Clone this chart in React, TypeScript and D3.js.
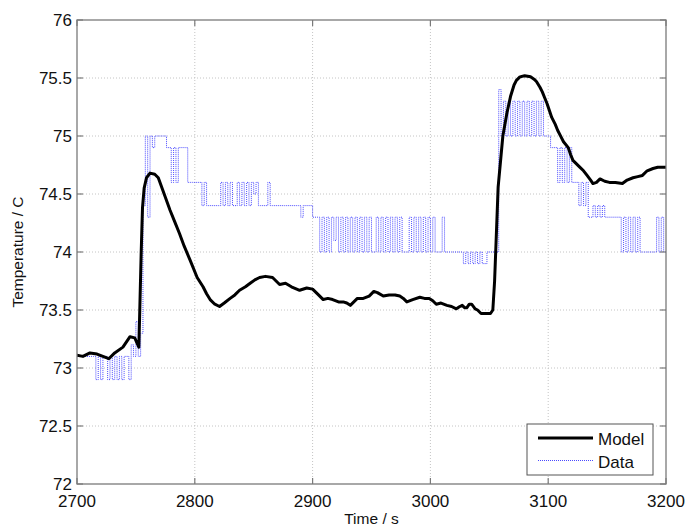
import React from "react";
import * as d3 from "d3";

// Simulated model response (time in s, temperature in °C)
const modelTime = [
  2700, 2705, 2711, 2717, 2722, 2727, 2732, 2739, 2745, 2749, 2752.5, 2753.3, 2754.5, 2755.6, 2757, 2759,
  2762, 2766, 2769, 2774, 2779, 2783, 2787, 2791, 2796, 2802, 2807, 2810, 2813, 2817, 2821, 2825,
  2830, 2834, 2838, 2843, 2847, 2851, 2855, 2860, 2866, 2872, 2877, 2882, 2889, 2895, 2900, 2905,
  2909, 2913, 2917, 2922, 2926, 2929, 2932, 2935, 2938, 2943, 2948, 2952, 2955, 2960, 2965, 2970,
  2974, 2977, 2980, 2985, 2991, 2995, 2999, 3002, 3005, 3009, 3014, 3018, 3022, 3025, 3027, 3029,
  3031, 3033, 3035, 3038, 3040, 3043, 3047, 3051, 3053, 3054.5, 3057.5, 3061.5, 3065, 3068, 3071, 3073,
  3076, 3080, 3085, 3088, 3090, 3093, 3095, 3097, 3099, 3101, 3103, 3106, 3108, 3111, 3113, 3117,
  3119, 3121, 3124, 3127, 3130, 3133, 3136, 3138, 3141, 3144, 3148, 3152, 3157, 3163, 3167, 3172,
  3176, 3180, 3184, 3189, 3193, 3197, 3200,
];
const modelTemp = [
  73.11, 73.1, 73.13, 73.12, 73.1, 73.08, 73.13, 73.18, 73.27, 73.26, 73.18, 73.5, 74.0, 74.38, 74.55, 74.64,
  74.68, 74.67, 74.64, 74.5, 74.36, 74.26, 74.16, 74.05, 73.93, 73.78, 73.7, 73.64, 73.59, 73.55, 73.53, 73.56,
  73.6, 73.63, 73.67, 73.7, 73.73, 73.76, 73.78, 73.79, 73.78, 73.72, 73.73, 73.7, 73.67, 73.69, 73.68, 73.63,
  73.59, 73.6, 73.59, 73.57, 73.57, 73.56, 73.54, 73.57, 73.6, 73.6, 73.62, 73.66, 73.65, 73.62, 73.63, 73.63,
  73.62, 73.6, 73.57, 73.59, 73.61, 73.6, 73.6, 73.58, 73.55, 73.56, 73.54, 73.53, 73.51, 73.53, 73.54, 73.52,
  73.52, 73.55, 73.55, 73.51, 73.5, 73.47, 73.47, 73.47, 73.5, 73.75, 74.56, 75.0, 75.2, 75.34, 75.44, 75.48,
  75.51, 75.52, 75.51, 75.49, 75.47, 75.42, 75.38, 75.33, 75.28, 75.22, 75.16, 75.1, 75.05, 74.99, 74.95, 74.9,
  74.84, 74.79, 74.76, 74.73, 74.7, 74.66, 74.62, 74.59, 74.6, 74.63, 74.61, 74.6, 74.6, 74.59, 74.62, 74.64,
  74.65, 74.66, 74.7, 74.72, 74.73, 74.73, 74.73,
];

// Measured sensor data, sampled every 2 s from 2700 s (0.1 °C resolution)
const dataStart = 2700;
const dataStep = 2;
const dataTemp = [
  73.1, 73.1, 73.1, 73.1, 73.1, 73.1, 73.1, 73.1, 72.9, 73.1,
  72.9, 73.1, 73.1, 72.9, 73.1, 72.9, 73.1, 72.9, 73.1, 72.9,
  73.1, 73.1, 72.9, 73.2, 73.1, 73.4, 73.1, 73.3, 74.4, 75.0,
  74.3, 75.0, 74.9, 75.0, 75.0, 75.0, 75.0, 75.0, 74.9, 74.9,
  74.6, 74.9, 74.6, 74.9, 74.9, 74.9, 74.9, 74.6, 74.6, 74.6,
  74.6, 74.6, 74.6, 74.4, 74.6, 74.4, 74.4, 74.4, 74.4, 74.4,
  74.4, 74.6, 74.4, 74.6, 74.4, 74.6, 74.4, 74.4, 74.6, 74.4,
  74.6, 74.4, 74.6, 74.4, 74.6, 74.5, 74.6, 74.4, 74.4, 74.4,
  74.4, 74.6, 74.4, 74.4, 74.4, 74.4, 74.4, 74.4, 74.4, 74.4,
  74.4, 74.4, 74.4, 74.4, 74.4, 74.3, 74.4, 74.4, 74.4, 74.4,
  74.3, 74.3, 74.3, 74.0, 74.3, 74.0, 74.3, 74.0, 74.3, 74.1,
  74.3, 74.0, 74.3, 74.0, 74.3, 74.0, 74.3, 74.0, 74.3, 74.0,
  74.3, 74.0, 74.3, 74.0, 74.3, 74.0, 74.0, 74.3, 74.0, 74.3,
  74.0, 74.3, 74.0, 74.3, 74.0, 74.3, 74.0, 74.3, 74.0, 74.0,
  74.0, 74.3, 74.0, 74.3, 74.0, 74.3, 74.0, 74.3, 74.0, 74.3,
  74.0, 74.3, 74.0, 74.0, 74.0, 74.3, 74.0, 74.0, 74.0, 74.0,
  74.0, 74.0, 74.0, 74.0, 73.9, 74.0, 73.9, 74.0, 73.9, 74.0,
  73.9, 74.0, 73.9, 73.9, 74.0, 74.0, 74.0, 74.0, 74.0, 75.4,
  75.0, 75.3, 75.0, 75.3, 75.0, 75.3, 75.0, 75.3, 75.0, 75.3,
  75.0, 75.3, 75.0, 75.3, 75.0, 75.3, 75.0, 75.3, 75.0, 75.0,
  75.0, 74.9, 74.9, 74.9, 74.6, 74.9, 74.6, 74.9, 74.6, 74.9,
  74.6, 74.6, 74.6, 74.4, 74.6, 74.4, 74.6, 74.3, 74.3, 74.4,
  74.3, 74.4, 74.3, 74.4, 74.3, 74.3, 74.3, 74.3, 74.3, 74.3,
  74.3, 74.0, 74.3, 74.0, 74.3, 74.0, 74.3, 74.0, 74.3, 74.0,
  74.0, 74.0, 74.0, 74.0, 74.0, 74.0, 74.3, 74.0, 74.3, 74.0,
  74.0,
];

const xTicks = [2700, 2800, 2900, 3000, 3100, 3200];
const yTicks = [72, 72.5, 73, 73.5, 74, 74.5, 75, 75.5, 76];
const seriesNames = ["Model", "Data"];
const xLabel = "Time / s";
const yLabel = "Temperature / C";

const W = 687;
const H = 527;
const left = 77;
const right = 666;
const top = 20;
const bottom = 484;
const font = "'Liberation Sans', Arial, Helvetica, sans-serif";
const axisColor = "#7a7a7a";
const gridColor = "#c4c4c4";
const dataColor = "#2b2bff";

export default function App() {
  const x = d3.scaleLinear().domain([2700, 3200]).range([left, right]);
  const y = d3.scaleLinear().domain([72, 76]).range([bottom, top]);

  const modelPts: [number, number][] = modelTime.map((t, i) => [t, modelTemp[i]]);
  const dataPts: [number, number][] = dataTemp.map((v, i) => [dataStart + i * dataStep, v]);

  const modelLine = d3
    .line<[number, number]>()
    .x((d) => x(d[0]))
    .y((d) => y(d[1]));

  // sensor readings are held until the next sample
  const dataLine = d3
    .line<[number, number]>()
    .x((d) => x(d[0]))
    .y((d) => y(d[1]))
    .curve(d3.curveStepAfter);

  const tickLen = 6;

  return (
    <div style={{ position: "fixed", left: 0, top: 0 }}>
      <svg width={W} height={H} style={{ display: "block", background: "#fff" }}>
        <defs>
          <clipPath id="plotClip">
            <rect x={left} y={top} width={right - left} height={bottom - top} />
          </clipPath>
        </defs>

        {/* grid */}
        <g stroke={gridColor} strokeWidth={1} strokeDasharray="1,2">
          {xTicks.slice(1, -1).map((t) => (
            <line key={"gx" + t} x1={x(t)} x2={x(t)} y1={top} y2={bottom} />
          ))}
          {yTicks.slice(1, -1).map((t) => (
            <line key={"gy" + t} x1={left} x2={right} y1={y(t)} y2={y(t)} />
          ))}
        </g>

        {/* series */}
        <g clipPath="url(#plotClip)" fill="none">
          <path
            d={dataLine(dataPts) || ""}
            stroke={dataColor}
            strokeWidth={1}
            strokeDasharray="1,1"
            opacity={0.85}
          />
          <path
            d={modelLine(modelPts) || ""}
            stroke="#000"
            strokeWidth={3}
            strokeLinejoin="round"
            strokeLinecap="round"
          />
        </g>

        {/* axes box with inward ticks on all sides */}
        <rect
          x={left}
          y={top}
          width={right - left}
          height={bottom - top}
          fill="none"
          stroke={axisColor}
          strokeWidth={1.3}
        />
        <g stroke={axisColor} strokeWidth={1.2}>
          {xTicks.map((t) => (
            <g key={"tx" + t}>
              <line x1={x(t)} x2={x(t)} y1={bottom} y2={bottom - tickLen} />
              <line x1={x(t)} x2={x(t)} y1={top} y2={top + tickLen} />
            </g>
          ))}
          {yTicks.map((t) => (
            <g key={"ty" + t}>
              <line x1={left} x2={left + tickLen} y1={y(t)} y2={y(t)} />
              <line x1={right} x2={right - tickLen} y1={y(t)} y2={y(t)} />
            </g>
          ))}
        </g>

        {/* tick labels */}
        <g fontFamily={font} fontSize={17} fill="#111">
          {xTicks.map((t) => (
            <text key={"lx" + t} x={x(t)} y={bottom + 22.5} textAnchor="middle">
              {t}
            </text>
          ))}
          {yTicks.map((t) => (
            <text key={"ly" + t} x={left - 5} y={y(t) + 6} textAnchor="end">
              {t}
            </text>
          ))}
        </g>

        {/* axis titles */}
        <text
          x={(left + right) / 2}
          y={524}
          textAnchor="middle"
          fontFamily={font}
          fontSize={15.5}
          fill="#111"
        >
          {xLabel}
        </text>
        <text
          transform={`translate(23,${(top + bottom) / 2}) rotate(-90)`}
          textAnchor="middle"
          fontFamily={font}
          fontSize={15.5}
          fill="#111"
        >
          {yLabel}
        </text>

        {/* legend */}
        <g>
          <rect x={527} y={424} width={126} height={51} fill="#fff" stroke="#555" strokeWidth={1} />
          <line x1={538} x2={593} y1={438} y2={438} stroke="#000" strokeWidth={3} />
          <line
            x1={538}
            x2={593}
            y1={460.5}
            y2={460.5}
            stroke={dataColor}
            strokeWidth={1}
            strokeDasharray="1,1"
            opacity={0.85}
          />
          <text x={598} y={445} fontFamily={font} fontSize={17} fill="#111">
            {seriesNames[0]}
          </text>
          <text x={598} y={467.5} fontFamily={font} fontSize={17} fill="#111">
            {seriesNames[1]}
          </text>
        </g>
      </svg>
    </div>
  );
}
